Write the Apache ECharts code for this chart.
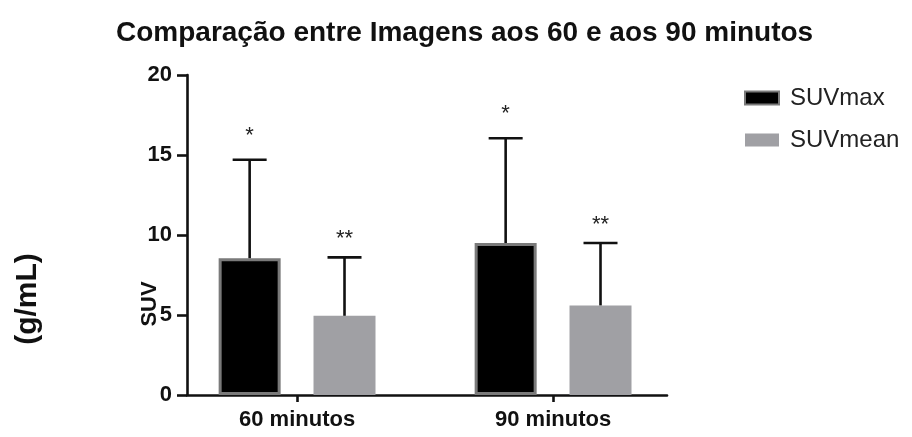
<!DOCTYPE html>
<html>
<head>
<meta charset="utf-8">
<script src="https://cdn.jsdelivr.net/npm/echarts@6/dist/echarts.min.js"></script>
<style>html,body{margin:0;padding:0;background:#fff}#c{width:912px;height:437px}</style>
</head>
<body>
<div id="c"></div>
<script>
// ---- data ----
const categories = ['60 minutos', '90 minutos'];
const seriesNames = ['SUVmax', 'SUVmean'];
const suvMax = [8.55, 9.5];
const suvMaxSD = [6.15, 6.55];
const suvMean = [4.95, 5.6];
const suvMeanSD = [3.65, 3.9];
const suvMaxMarks = ['*', '*'];
const suvMeanMarks = ['**', '**'];
const yTicks = [0, 5, 10, 15, 20];

// ---- styles ----
const FONT = 'Liberation Sans, Arial, sans-serif';
const BAR_W = 62;
const BAR_GAP = 0.53;
const HALF_SPACING = BAR_W * (1 + BAR_GAP) / 2;

const chart = echarts.init(document.getElementById('c'));

function errSeries(values, sds, marks, sign, starLift) {
  return {
    type: 'custom',
    silent: true,
    z: 5,
    data: values.map((v, i) => [i, v, sds[i]]),
    renderItem: function (params, api) {
      const x = api.value(0), v = api.value(1), sd = api.value(2);
      const mark = marks[params.dataIndex];
      const p0 = api.coord([x, v]);
      const p1 = api.coord([x, v + sd]);
      const cx = p0[0] + sign * HALF_SPACING;
      const lineStyle = { stroke: '#111', lineWidth: 2.6 };
      return {
        type: 'group',
        children: [
          { type: 'line', shape: { x1: cx, y1: p0[1], x2: cx, y2: p1[1] }, style: lineStyle },
          { type: 'line', shape: { x1: cx - 17, y1: p1[1], x2: cx + 17, y2: p1[1] }, style: lineStyle },
          { type: 'text', x: cx, y: p1[1] - starLift,
            style: { text: mark, fill: '#222', font: '22px ' + FONT, align: 'center', verticalAlign: 'middle' } }
        ]
      };
    }
  };
}

chart.setOption({
  animation: false,
  title: {
    text: 'Comparação entre Imagens aos 60 e aos 90 minutos',
    left: 111, top: 14,
    textStyle: { fontFamily: FONT, fontSize: 28, fontWeight: 'bold', color: '#111' }
  },
  legend: {
    orient: 'vertical', left: 739, top: 81,
    icon: 'rect',
    itemWidth: 34, itemHeight: 13, itemGap: 18,
    textStyle: { fontFamily: FONT, fontSize: 24, color: '#222', padding: [0, 0, 0, 6] },
    data: [
      { name: seriesNames[0], itemStyle: { color: '#000', borderColor: '#7a7a7a', borderWidth: 2 } },
      { name: seriesNames[1], itemStyle: { color: '#a0a0a4', borderWidth: 0 } }
    ]
  },
  grid: { left: 187, right: 245, top: 75, bottom: 42 },
  xAxis: {
    type: 'value', min: -0.43, max: 1.445,
    splitLine: { show: false },
    axisLine: { show: true, onZero: false, lineStyle: { color: '#111', width: 2.6 } },
    axisTick: { show: true, customValues: [0, 1], length: 7, lineStyle: { color: '#111', width: 2.6 } },
    axisLabel: {
      customValues: [0, 1], margin: 14,
      formatter: v => categories[Math.round(v)],
      fontFamily: FONT, fontSize: 22, fontWeight: 'bold', color: '#111'
    }
  },
  yAxis: {
    type: 'value', min: 0, max: 20, interval: 5,
    splitLine: { show: false },
    axisLine: { show: true, onZero: false, lineStyle: { color: '#111', width: 2.6 } },
    axisTick: { show: true, length: 10, lineStyle: { color: '#111', width: 2.6 } },
    axisLabel: {
      margin: 15, formatter: v => (yTicks.indexOf(v) >= 0 ? String(v) : ''),
      fontFamily: FONT, fontSize: 22, fontWeight: 'bold', color: '#111'
    }
  },
  graphic: [
    { type: 'text', x: 150, y: 304, rotation: Math.PI / 2,
      style: { text: 'SUV', font: 'bold 22px ' + FONT, fill: '#111', align: 'center', verticalAlign: 'middle' } },
    { type: 'text', x: 28, y: 299, rotation: Math.PI / 2,
      style: { text: '(g/mL)', font: 'bold 30px ' + FONT, fill: '#111', align: 'center', verticalAlign: 'middle' } }
  ],
  series: [
    {
      name: seriesNames[0], type: 'bar', barWidth: BAR_W, barGap: (BAR_GAP * 100) + '%',
      data: suvMax.map((v, i) => [i, v]),
      itemStyle: { color: '#000', borderColor: '#7a7a7a', borderWidth: 3 }
    },
    {
      name: seriesNames[1], type: 'bar', barWidth: BAR_W, barGap: (BAR_GAP * 100) + '%',
      data: suvMean.map((v, i) => [i, v]),
      itemStyle: { color: '#a0a0a4' }
    },
    errSeries(suvMax, suvMaxSD, suvMaxMarks, -1, 24),
    errSeries(suvMean, suvMeanSD, suvMeanMarks, 1, 18)
  ]
});
</script>
</body>
</html>
